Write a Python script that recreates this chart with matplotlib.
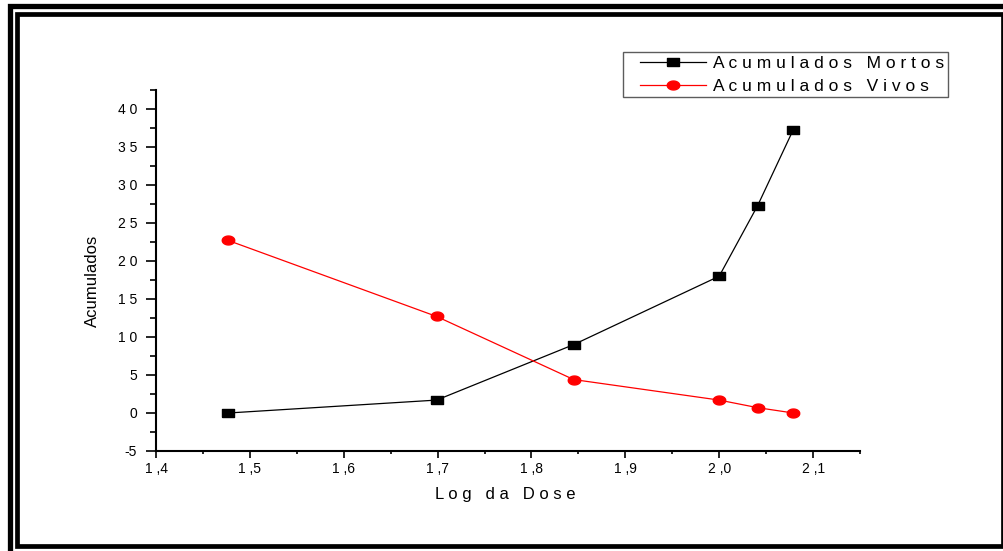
import numpy as np
import matplotlib
matplotlib.use('Agg')
import matplotlib.pyplot as plt
from matplotlib.patches import Rectangle
from matplotlib.ticker import MultipleLocator, FuncFormatter
from matplotlib.legend_handler import HandlerLine2D

plt.rcParams['font.family'] = ['Liberation Sans', 'DejaVu Sans']

# log10 of the dose and accumulated counts
log_dose = [1.477, 1.699, 1.845, 2.000, 2.041, 2.079]
mortos = [0.0, 1.7, 9.0, 18.0, 27.3, 37.3]
vivos = [22.7, 12.7, 4.4, 1.7, 0.7, 0.0]

label_mortos = 'Acumulados Mortos'
label_vivos = 'Acumulados Vivos'
x_label = 'Log da Dose'
y_label = 'Acumulados'


def spaced(s, gap=' '):
    # letter-spaced text
    return gap.join(s)


# wide marker shapes
rect_marker = [(-1.4, -1), (1.4, -1), (1.4, 1), (-1.4, 1), (-1.4, -1)]
t = np.linspace(0, 2 * np.pi, 40)
ellipse_marker = list(zip(1.4 * np.cos(t), 1.0 * np.sin(t)))

fig = plt.figure(figsize=(10.04, 5.51), dpi=100)
W, H = 1004, 551

# double frame around the figure
fig.patches.append(Rectangle((9.5 / W, -0.1), 1.2, 1 - 6 / H + 0.1, transform=fig.transFigure,
                             fill=False, edgecolor='black', linewidth=3.8, zorder=0))
fig.patches.append(Rectangle((17 / W, 1 - 545.5 / H), (1003 - 17) / W, (545.5 - 14) / H,
                             transform=fig.transFigure, fill=False, edgecolor='black',
                             linewidth=3.4, zorder=0))

ax = fig.add_axes([156 / W, 1 - 451 / H, (860 - 156) / W, (451 - 90) / H])

ax.plot(log_dose, mortos, color='black', linewidth=0.9, marker=rect_marker,
        markersize=8, markerfacecolor='black', markeredgecolor='black',
        label=spaced(label_mortos))
ax.plot(log_dose, vivos, color='red', linewidth=0.9, marker=ellipse_marker,
        markersize=9, markerfacecolor='red', markeredgecolor='red',
        label=spaced(label_vivos))

ax.set_xlim(1.4, 2.15)
ax.set_ylim(-5, 42.5)
ax.xaxis.set_major_locator(MultipleLocator(0.1))
ax.xaxis.set_minor_locator(MultipleLocator(0.05))
ax.yaxis.set_major_locator(MultipleLocator(5))
ax.yaxis.set_minor_locator(MultipleLocator(2.5))


def fmt_x(v, pos):
    s = f'{v:.1f}'.replace('.', ',')
    return s.replace(',', ' ,')


def fmt_y(v, pos):
    n = int(round(v))
    if n < 0:
        return '-' + spaced(str(-n))
    return spaced(str(n))


ax.xaxis.set_major_formatter(FuncFormatter(fmt_x))
ax.yaxis.set_major_formatter(FuncFormatter(fmt_y))

for side in ['top', 'right']:
    ax.spines[side].set_visible(False)
for side in ['left', 'bottom']:
    ax.spines[side].set_linewidth(1.5)

ax.tick_params(axis='y', which='major', direction='out', length=7.5, width=1.2,
               labelsize=10, pad=6)
ax.tick_params(axis='y', which='minor', direction='out', length=4.5, width=1.2)
ax.tick_params(axis='x', which='major', direction='out', length=5, width=1.2,
               labelsize=10, pad=3)
ax.tick_params(axis='x', which='minor', direction='out', length=2.5, width=1.2)

ax.set_xlabel(spaced(x_label), fontsize=12)
ax.xaxis.set_label_coords(0.496, -0.1)
ax.set_ylabel(y_label, fontsize=12)
ax.yaxis.set_label_coords(-0.08, 0.47)

leg_fs = 12.5
leg = fig.legend(loc='upper left', bbox_to_anchor=(623 / W, 1 - 52 / H), fontsize=leg_fs,
                 frameon=True, fancybox=False, handlelength=4.6, handletextpad=0.4,
                 borderpad=0.2, labelspacing=0.45, borderaxespad=0,
                 handler_map={l: HandlerLine2D(xpad=0.78) for l in ax.get_lines()})
leg.get_frame().set_edgecolor('#333333')
leg.get_frame().set_linewidth(1.0)

fig.savefig('out.png', dpi=100)
